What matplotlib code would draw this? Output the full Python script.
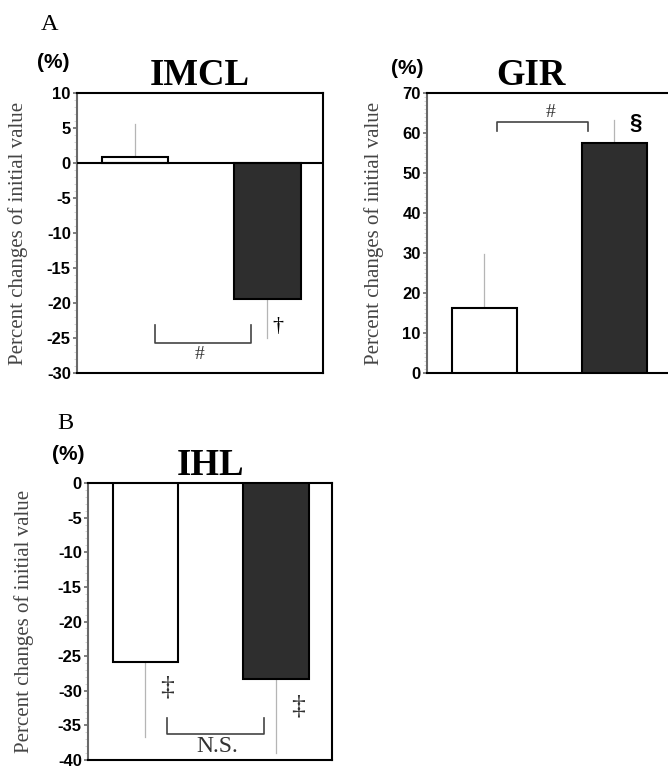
import matplotlib
matplotlib.use("Agg")
import matplotlib.pyplot as plt
from matplotlib.ticker import MultipleLocator

plt.rcParams["axes.unicode_minus"] = False

# ---- data ----
groups = [1, 2]
imcl_values = [0.9, -19.4]
imcl_err = [4.7, 5.6]          # one-sided (upper for white, lower for black)
gir_values = [16.3, 57.4]
gir_err = [13.4, 5.8]
ihl_values = [-25.9, -28.3]
ihl_err = [10.8, 10.7]
bar_colors = ["white", "#2e2e2e"]

W, H = 668, 766
fig = plt.figure(figsize=(W / 100, H / 100), dpi=100)

def add_ax(left, top, right, bottom):
    return fig.add_axes([left / W, 1 - bottom / H, (right - left) / W, (bottom - top) / H])

SERIF = ["Liberation Serif", "DejaVu Serif"]
SANS = ["Liberation Sans", "DejaVu Sans"]

def style(ax, ylim, major, ylabel):
    ax.set_ylim(*ylim)
    ax.yaxis.set_major_locator(MultipleLocator(major))
    ax.yaxis.set_minor_locator(MultipleLocator(1))
    ax.set_xticks([])
    for s in ["top", "right", "bottom"]:
        ax.spines[s].set_linewidth(1.5)
        ax.spines[s].set_color("black")
    ax.spines["left"].set_linewidth(1.5)
    ax.spines["left"].set_color("#6a6a6a")
    ax.tick_params(axis="y", which="major", direction="out", length=3, width=1.2,
                   color="#6a6a6a", pad=1.5)
    ax.tick_params(axis="y", which="minor", direction="out", length=2, width=0.6,
                   color="#d0d0d0")
    for lab in ax.get_yticklabels():
        lab.set_fontfamily(SANS)
        lab.set_fontweight("bold")
        lab.set_fontsize(12)
    ax.set_ylabel(ylabel, family=SERIF, fontsize=15, color="#444444")

def bars(ax, vals, errs):
    ax.bar(groups, vals, width=0.5, color=bar_colors, edgecolor="black",
           linewidth=1.5, zorder=3)
    for g, v, e in zip(groups, vals, errs):
        sign = 1 if v >= 0 else -1
        ax.plot([g, g], [v, v + sign * e], color="#b5b5b5", lw=0.9, zorder=2)

def bracket(ax, x0, x1, y_leg, y_bar):
    ax.plot([x0, x0, x1, x1], [y_leg, y_bar, y_bar, y_leg], color="#444444", lw=1.2, zorder=4)

ylab = "Percent changes of initial value"

# ---- IMCL ----
ax1 = add_ax(77, 93, 323, 373)
bars(ax1, imcl_values, imcl_err)
ax1.axhline(0, color="black", lw=1.5, zorder=4)
ax1.set_xlim(0.56, 2.42)
style(ax1, (-30, 10), 5, ylab)
ax1.yaxis.set_label_coords(-0.2, 0.5)
bracket(ax1, 1.15, 1.878, -23.1, -25.7)
ax1.text(1.49, -27.3, "#", family=SERIF, fontsize=14, ha="center", va="center", color="#333333")
ax1.text(2.08, -23.3, "\u2020", family=SERIF, fontsize=16, ha="center", va="center")
ax1.set_title("IMCL", family=SERIF, fontweight="bold", fontsize=26.5, pad=1)

# ---- GIR ----
ax2 = add_ax(427, 93, 690, 373)
bars(ax2, gir_values, gir_err)
ax2.set_xlim(0.56, 2.58)
style(ax2, (0, 70), 10, ylab)
ax2.yaxis.set_label_coords(-0.163, 0.5)
bracket(ax2, 1.10, 1.80, 60.5, 62.75)
ax2.text(1.51, 65.2, "#", family=SERIF, fontsize=14, ha="center", va="center", color="#333333")
ax2.text(2.16, 62.3, "\u00a7", family=SANS, fontweight="bold", fontsize=16, ha="center", va="center")
ax2.set_title("GIR", family=SERIF, fontweight="bold", fontsize=26.5, pad=1, x=(531 - 427) / 263)

# ---- IHL ----
ax3 = add_ax(88, 483, 332, 760)
bars(ax3, ihl_values, ihl_err)
ax3.set_xlim(0.56, 2.43)
style(ax3, (-40, 0), 5, ylab)
ax3.yaxis.set_label_coords(-0.221, 0.5)
bracket(ax3, 1.165, 1.909, -33.9, -36.2)
ax3.text(1.55, -38.0, "N.S.", family=SERIF, fontsize=17, ha="center", va="center", color="#333333")
ax3.text(1.165, -29.6, "\u2021", family=SERIF, fontsize=20, ha="center", va="center", color="#333333")
ax3.text(2.17, -32.3, "\u2021", family=SERIF, fontsize=20, ha="center", va="center", color="#333333")
ax3.set_title("IHL", family=SERIF, fontweight="bold", fontsize=26.5, pad=1)

# ---- panel letters and units ----
def ftext(x, y, s, **kw):
    fig.text(x / W, 1 - y / H, s, ha="center", va="center", **kw)

ftext(50, 25, "A", family=SERIF, fontsize=17.5)
ftext(65, 423, "B", family=SERIF, fontsize=17.5)
ftext(53, 63, "(%)", family=SANS, fontweight="bold", fontsize=15)
ftext(407, 69, "(%)", family=SANS, fontweight="bold", fontsize=15)
ftext(68, 455, "(%)", family=SANS, fontweight="bold", fontsize=15)

fig.savefig("out.png", dpi=100, facecolor="white")
